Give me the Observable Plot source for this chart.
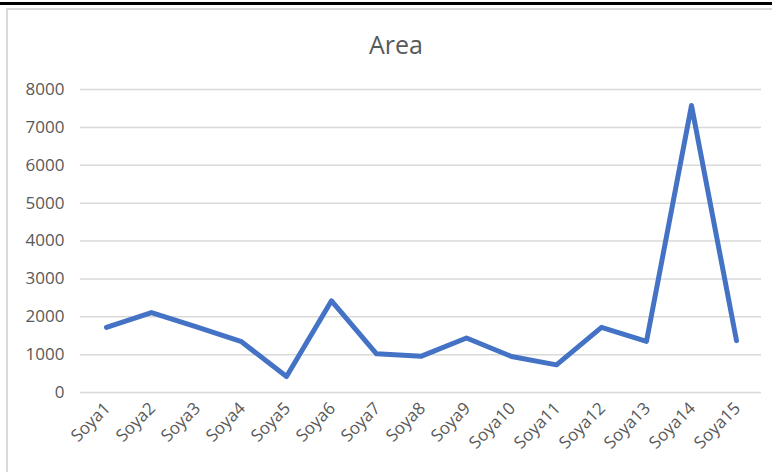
<!DOCTYPE html>
<html>
<head>
<meta charset="utf-8">
<script src="https://cdn.jsdelivr.net/npm/d3@7"></script>
<script src="https://cdn.jsdelivr.net/npm/@observablehq/plot@0.6"></script>
<style>
  html, body { margin: 0; padding: 0; background: #fff; }
  #wrap { position: relative; width: 772px; height: 472px; overflow: hidden; font-family: "Open Sans", "Noto Sans", sans-serif; }
  #topline { position: absolute; left: 0; top: 2px; width: 772px; height: 3px; background: #000; }
  #box { position: absolute; left: 6px; top: 8px; width: 780px; height: 480px; border-left: 2px solid #d9d9d9; border-top: 2px solid #d9d9d9; }
  #title { position: absolute; left: 0; top: 27px; width: 792px; text-align: center; font-size: 25px; line-height: 34px; color: #595959; }
  #chart { position: absolute; left: 0; top: 60px; }
  #chart svg text { font-family: "Liberation Sans Narrow", "Open Sans", sans-serif !important; font-size: 17px !important; fill: #595959; }
</style>
</head>
<body>
<div id="wrap">
  <div id="topline"></div>
  <div id="box"></div>
  <div id="title">Area</div>
  <div id="chart"></div>
</div>
<script>
const categories = ["Soya1","Soya2","Soya3","Soya4","Soya5","Soya6","Soya7","Soya8","Soya9","Soya10","Soya11","Soya12","Soya13","Soya14","Soya15"];
const areaValues = [1720, 2110, 1730, 1340, 420, 2420, 1020, 960, 1440, 950, 730, 1720, 1350, 7580, 1370];
const yTicks = [0, 1000, 2000, 3000, 4000, 5000, 6000, 7000, 8000];

const data = categories.map((c, i) => ({cat: c, value: areaValues[i]}));

const chart = Plot.plot({
  width: 772,
  height: 412,
  marginLeft: 80,
  marginRight: 11,
  marginTop: 29,
  marginBottom: 80,
  style: {fontFamily: "'Liberation Sans Narrow', 'Open Sans', sans-serif", background: "transparent"},
  x: {domain: categories, padding: 0.5, label: null},
  y: {domain: [0, 8000], label: null},
  marks: [
    Plot.gridY(yTicks, {stroke: "#d9d9d9", strokeOpacity: 1, strokeWidth: 1.5}),
    Plot.axisY(yTicks, {tickSize: 0, tickPadding: 16, fill: "#595959", tickFormat: d => String(d), label: null}),
    Plot.axisX({tickSize: 0, tickRotate: -45, tickPadding: 13, fill: "#595959", label: null, dx: 1}),
    Plot.line(data, {x: "cat", y: "value", stroke: "#4472C4", strokeWidth: 5, strokeLinejoin: "round", strokeLinecap: "round"})
  ]
});
document.getElementById("chart").appendChild(chart);
</script>
</body>
</html>
